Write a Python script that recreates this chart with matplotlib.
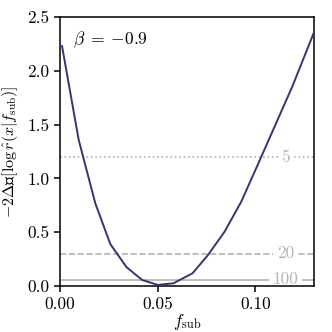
import matplotlib
matplotlib.use("Agg")
import matplotlib.pyplot as plt
import numpy as np

plt.rcParams['font.family'] = 'serif'
plt.rcParams['font.serif'] = ['cmr10']
plt.rcParams['mathtext.fontset'] = 'cm'
plt.rcParams['axes.formatter.use_mathtext'] = True
plt.rcParams['font.size'] = 12.5

# curve
f_sub = [0.001, 0.0095, 0.018, 0.0257, 0.034, 0.042, 0.050, 0.058,
         0.0678, 0.0757, 0.0842, 0.0927, 0.101, 0.110, 0.119, 0.130]
delta = [2.23, 1.36, 0.77, 0.39, 0.175, 0.056, 0.01, 0.025,
         0.118, 0.288, 0.505, 0.783, 1.12, 1.49, 1.86, 2.36]

# reference thresholds
n_obs = [5, 20, 100]
thresholds = [6.0 / n for n in n_obs]
styles = [':', '--', '-']

fig = plt.figure(figsize=(3.32, 3.32), dpi=100)
ax = fig.add_axes([0.181, 0.1386, 0.765, 0.81])

for n, t, ls in zip(n_obs, thresholds, styles):
    ax.axhline(t, color='#b3b3b3', ls=ls, lw=1.2, zorder=1)
    ax.text(0.1153, t, str(n), color='#b3b3b3', ha='center', va='center',
            fontsize=12.5, zorder=2,
            bbox=dict(facecolor='white', edgecolor='none', pad=2.5))

ax.plot(f_sub, delta, color='#37356b', lw=1.4, zorder=3)

ax.text(0.2, 0.915, r'$\beta\;=\;{-0.9}$', transform=ax.transAxes,
        ha='center', va='center', fontsize=12.5)

ax.set_xlim(0, 0.13)
ax.set_ylim(0, 2.5)
ax.set_xticks([0.0, 0.05, 0.10])
ax.set_xticklabels(['0.00', '0.05', '0.10'])
ax.set_yticks([0.0, 0.5, 1.0, 1.5, 2.0, 2.5])
ax.set_yticklabels(['0.0', '0.5', '1.0', '1.5', '2.0', '2.5'])
ax.tick_params(direction='out', length=4, width=1.1, labelsize=12.5)
for s in ax.spines.values():
    s.set_linewidth(1.1)

ax.set_xlabel(r'$f_{\rm sub}$', fontsize=12.5)
ax.xaxis.set_label_coords(0.5, -0.098)
ax.set_ylabel(r'$-2\Delta$' + '\U0001D53C' + r'$[\log\hat{r}(x|f_{\rm sub})]$',
              fontsize=11.5, family=['cmr10', 'DejaVu Sans'])
ax.yaxis.set_label_coords(-0.158, 0.5)

fig.savefig('out.png', dpi=100)
